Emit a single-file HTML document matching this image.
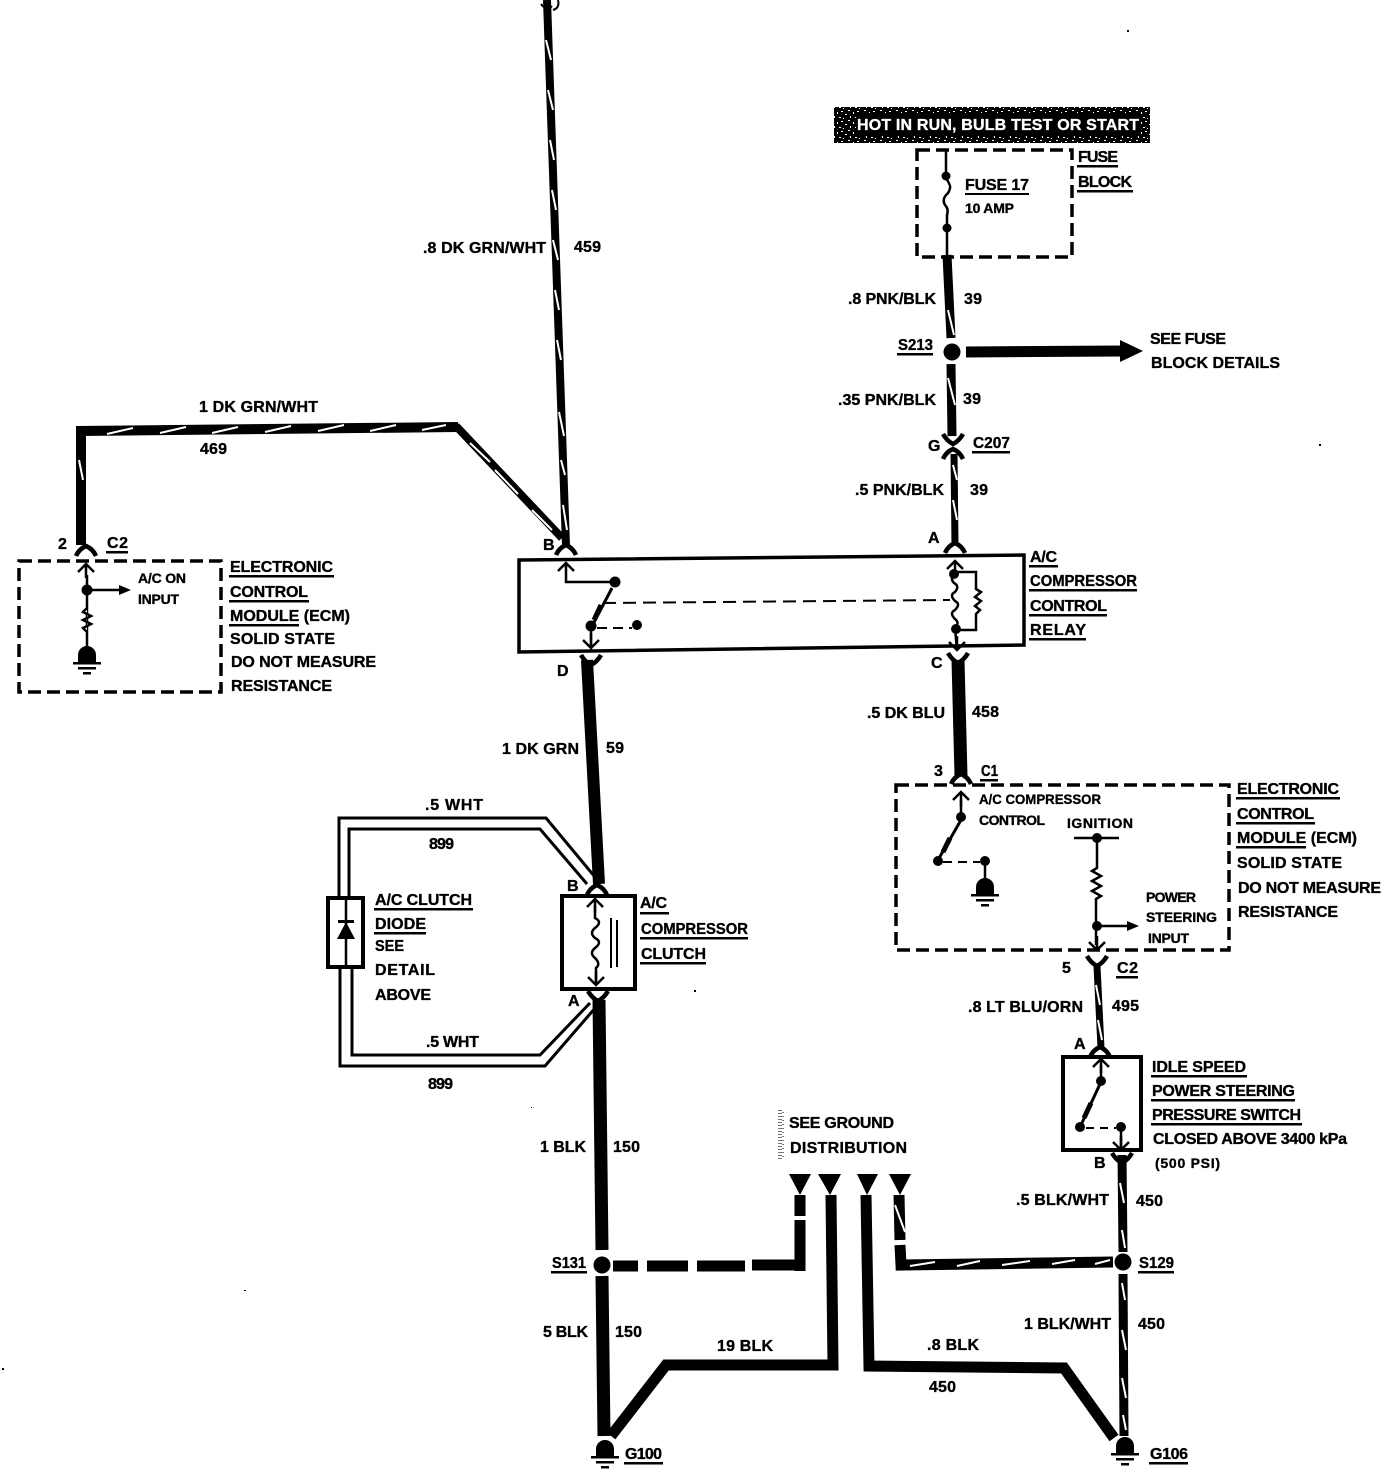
<!DOCTYPE html>
<html><head><meta charset="utf-8"><title>A/C compressor wiring</title>
<style>
html,body{margin:0;padding:0;background:#fff}
svg{display:block}
text{font-family:"Liberation Sans",sans-serif;font-weight:bold;font-size:16px;fill:#000;stroke:#000;stroke-width:.35}
.s{font-size:14px}
.w{fill:none;stroke:#000;stroke-linejoin:miter}
.t{fill:none;stroke:#000;stroke-width:2.5}
.z{fill:none;stroke:#fff;stroke-width:2}
.d{fill:none;stroke:#000;stroke-width:3.5;stroke-dasharray:13 6}
</style></head><body>
<svg width="1392" height="1476" viewBox="0 0 1392 1476" xmlns="http://www.w3.org/2000/svg">
<defs>
<pattern id="n" width="16" height="10" patternUnits="userSpaceOnUse">
<rect x="0" y="0" width="2" height="1" fill="#fff"/><rect x="5" y="2" width="1" height="2" fill="#fff"/><rect x="9" y="1" width="2" height="1" fill="#fff"/><rect x="13" y="4" width="2" height="1" fill="#fff"/><rect x="2" y="6" width="1" height="2" fill="#fff"/><rect x="7" y="7" width="2" height="1" fill="#fff"/><rect x="11" y="8" width="1" height="1" fill="#fff"/>
</pattern>
<g id="cu"><path d="M-10,7 Q-7,0 0,-3 Q7,0 10,7" fill="none" stroke="#000" stroke-width="4.5"/></g>
<g id="cd"><path d="M-10,-7 Q-6,0 0,3 Q6,0 10,-7" fill="none" stroke="#000" stroke-width="4.5"/></g>
<g id="au"><path d="M-8,8 L0,0 L8,8 M0,0 V14" fill="none" stroke="#000" stroke-width="2.5"/></g>
<g id="ad"><path d="M-8,-8 L0,0 L8,-8 M0,0 V-14" fill="none" stroke="#000" stroke-width="2.5"/></g>
<g id="gnd"><path d="M-9,4 V-3 A9,9 0 0 1 9,-3 V4 Z" fill="#000"/><rect x="-14" y="4" width="28" height="2.5"/><rect x="-9" y="9" width="18" height="2.5"/><rect x="-4" y="14" width="8" height="2.5"/></g>
</defs>

<!-- top wire 459 -->
<path class="w" stroke-width="8" d="M547,0 L566,546"/>
<path class="z" d="M546,40 L551,60 M548,90 L553,110 M550,140 L554,160 M552,190 L556,210 M553,240 L558,260 M555,290 L559,310 M557,340 L561,360 M559,412 L564,436 M561,460 L565,475 M563,505 L567,530"/>
<path class="w" stroke-width="2" d="M541,4 Q547,12 552,6 M558,0 Q560,8 553,10"/>
<!-- wire 469 -->
<path class="w" stroke-width="10" d="M81,545 L81,431 L458,427"/>
<path class="w" stroke-width="8" d="M456,426 L562,538"/>
<path class="z" d="M107,434 L133,428 M160,433 L186,427 M212,433 L238,427 M265,432 L291,426 M318,431 L344,425 M370,431 L396,425 M422,430 L446,425 M470,443 L490,462 M495,470 L518,494 M532,510 L552,530 M79,460 L83,480"/>

<!-- pink/blk wire 39 -->
<path class="w" stroke-width="9" d="M947,255 L951,338"/>
<path class="w" stroke-width="9" d="M951,364 L952,436"/>
<path class="w" stroke-width="7" d="M954,454 L955,545"/>
<path class="z" d="M948,310 L954,335 M948,378 L955,405 M953,465 L957,480 M953,500 L957,520"/>
<circle cx="952" cy="352" r="8.5"/>
<path class="w" stroke-width="11" d="M966,352 L1122,351"/>
<path d="M1120,340 L1143,351 L1120,362 Z"/>
<use href="#cd" x="953" y="441"/><use href="#cu" x="953" y="452"/>

<!-- relay -->
<path class="w" stroke-width="3.5" d="M519,560 L1024,555 L1024,645 L519,652 Z"/>
<use href="#cu" x="566" y="548"/><use href="#cu" x="955" y="546"/>
<use href="#cd" x="591" y="662"/><use href="#cd" x="958" y="660"/>
<use href="#au" x="566" y="563"/>
<path class="t" d="M566,577 V582 H615"/>
<circle cx="615" cy="582" r="5.5"/>
<path class="w" stroke-width="3" d="M612,588 L591,628"/>
<path class="w" stroke-width="5" d="M601,605 L594,620"/>
<circle cx="591" cy="626" r="5.5"/>
<path class="w" stroke-width="2" stroke-dasharray="10 6" d="M597,628 L632,628"/>
<circle cx="637" cy="625" r="5"/>
<path class="t" d="M591,630 V648"/>
<use href="#ad" x="591" y="648"/>
<path class="w" stroke-width="2" stroke-dasharray="13 7" d="M603,603 L950,600"/>
<use href="#au" x="955" y="561"/>
<circle cx="954" cy="574" r="5"/>
<path class="t" d="M954,574 q-4,5 0,9 q6,3 1,9 q-6,3 0,9 q6,3 0,9 q-6,3 0,9 q5,4 0,9 L957,650"/>
<path class="t" d="M954,572 H976 V589 l5,3 -6,5 6,4 -6,5 5,4 -4,4 V630 H957"/>
<circle cx="956" cy="629" r="5"/>
<use href="#ad" x="957" y="650"/>

<!-- wire 458 and 59 -->
<path class="w" stroke-width="13" d="M958,660 L961,776"/>
<path class="w" stroke-width="12" d="M587,660 L599,884"/>
<use href="#cu" x="961" y="777"/>

<!-- ECM left -->
<rect class="d" x="19" y="561" width="202" height="131"/>
<use href="#cu" x="86" y="549"/>
<use href="#au" x="86" y="564"/>
<path class="t" d="M87,575 V650 M87,590 H120"/>
<circle cx="87" cy="590" r="5.5"/>
<path d="M119,585 L131,590 L119,595 Z"/>
<path d="M87,608 l-4,4 8,4 -8,4 8,4 -8,4 4,4" fill="#fff" stroke="#000" stroke-width="2.5"/>
<use href="#gnd" x="87" y="658"/>

<!-- Fuse block -->
<rect class="d" x="917" y="150" width="155" height="107"/>
<path class="t" d="M946,150 V178 M946,178 q5,8 4,10 q-1,5 -4,7 q-4,5 -1,10 q4,4 2,10 V255"/>
<circle cx="946" cy="176" r="4.5"/><circle cx="947" cy="228" r="4.5"/>

<!-- Clutch -->
<rect class="w" stroke-width="4" x="562" y="896" width="73" height="93"/>
<use href="#cu" x="597" y="888"/>
<use href="#cd" x="598" y="998"/>
<use href="#au" x="595" y="899"/>
<path class="t" d="M595,905 V918 q8,4 0,10 q-6,5 0,10 q8,4 0,10 q-6,5 0,10 q6,6 1,10 V983"/>
<use href="#ad" x="596" y="985"/>
<path class="w" stroke-width="2" d="M611,918 V968 M617,920 V967"/>

<!-- diode double wires -->
<path class="w" stroke-width="3" d="M339,898 V818 H546 L595,877"/>
<path class="w" stroke-width="3" d="M349,898 V829 H540 L587,884"/>
<path class="w" stroke-width="3" d="M340,967 V1066 H545 L596,1007"/>
<path class="w" stroke-width="3" d="M352,967 V1055 H540 L590,1003"/>
<rect class="w" stroke-width="4" x="328" y="898" width="35" height="69"/>
<path class="w" stroke-width="2.5" d="M346,899 V966"/>
<path d="M338,920 H354 V923 H338 Z"/>
<path d="M337,939 L355,939 L346,922 Z"/>

<!-- 150 wires -->
<path class="w" stroke-width="13" d="M599,1000 L602,1250"/>
<path class="w" stroke-width="13" d="M602,1276 L604,1436"/>
<circle cx="602" cy="1265" r="8.5"/>
<use href="#gnd" x="605" y="1452"/>

<!-- Ground distribution -->
<path d="M789,1174 L811,1174 L800,1195 Z M818,1174 L841,1174 L830,1195 Z M857,1174 L878,1174 L867,1195 Z M889,1174 L911,1174 L900,1195 Z"/>
<path class="w" stroke-width="11" d="M800,1195 V1216 M800,1220 V1271"/>
<path class="w" stroke-width="11" d="M613,1266 H638 M647,1266 H688 M697,1266 H745 M752,1265 H796"/>
<path class="w" stroke-width="11" d="M831,1195 L833,1365 L666,1365 L611,1436"/>
<path class="w" stroke-width="11" d="M866,1195 L869,1366 L1064,1368 L1114,1438"/>
<path class="w" stroke-width="11" d="M899,1195 L900,1240 M900,1245 L901,1265 L1113,1262"/>
<path class="z" d="M895,1205 L905,1232 M910,1266 L935,1262 M957,1266 L980,1261 M1002,1265 L1030,1261 M1052,1264 L1075,1260 M1095,1264 L1110,1260"/>
<circle cx="1123" cy="1262" r="8.5"/>
<path class="w" stroke-width="9" d="M1122,1155 L1123,1252 M1123,1274 L1124,1436"/>
<path class="z" d="M1120,1183 L1124,1203 M1122,1230 L1125,1248 M1122,1283 L1125,1300 M1122,1330 L1126,1350 M1122,1378 L1126,1398 M1123,1415 L1126,1430"/>
<use href="#gnd" x="1125" y="1449"/>

<!-- ECM right -->
<rect class="d" x="896" y="785" width="333" height="165"/>
<use href="#au" x="961" y="792"/>
<circle cx="961" cy="817" r="5"/>
<path class="t" d="M961,800 V817"/>
<path class="w" stroke-width="3" d="M961,820 L938,860"/>
<path class="w" stroke-width="5" d="M950,838 L943,852"/>
<circle cx="938" cy="861" r="5"/>
<path class="w" stroke-width="2" stroke-dasharray="9 6" d="M943,862 L980,862"/>
<circle cx="985" cy="861" r="5"/>
<path class="t" d="M985,861 V882"/>
<use href="#gnd" x="985" y="890"/>
<path class="t" d="M1074,838 H1119 M1097,838 V868 l-5,3 9,5 -9,5 9,5 -9,5 9,5 -5,3 V945"/>
<circle cx="1097" cy="838" r="5"/><circle cx="1097" cy="926" r="5"/>
<path class="t" d="M1097,926 H1128"/>
<path d="M1127,921 L1139,926 L1127,931 Z"/>
<use href="#ad" x="1097" y="950"/>
<use href="#cd" x="1097" y="963"/>
<path class="w" stroke-width="7" d="M1097,966 L1101,1048"/>
<path class="z" d="M1096,985 L1100,1005 M1098,1020 L1102,1040"/>
<use href="#cu" x="1100" y="1050"/>

<!-- Idle switch -->
<rect class="w" stroke-width="4" x="1063" y="1057" width="78" height="93"/>
<use href="#au" x="1101" y="1059"/>
<path class="t" d="M1101,1065 V1080"/>
<circle cx="1101" cy="1081" r="5"/>
<path class="w" stroke-width="3" d="M1100,1084 L1081,1125"/>
<path class="w" stroke-width="5" d="M1091,1103 L1084,1118"/>
<circle cx="1080" cy="1127" r="5"/>
<path class="w" stroke-width="2" stroke-dasharray="8 6" d="M1086,1128 L1116,1128"/>
<circle cx="1121" cy="1127" r="5"/>
<path class="t" d="M1121,1127 V1148"/>
<use href="#ad" x="1121" y="1150"/>
<use href="#cd" x="1122" y="1160"/>

<!-- Banner -->
<rect x="834" y="107" width="316" height="36"/>
<rect x="834" y="107" width="316" height="36" fill="url(#n)"/>
<rect x="856" y="113" width="284" height="22" fill="#000"/>
<text x="857" y="130" textLength="282" style="fill:#fff;stroke:#fff">HOT IN RUN, BULB TEST OR START</text>

<!-- Labels -->
<text x="1078" y="162" textLength="40">FUSE</text><rect x="1077" y="165" width="41" height="2.5"/>
<text x="1078" y="187" textLength="54">BLOCK</text><rect x="1077" y="190" width="56" height="2.5"/>
<text x="965" y="190" textLength="64">FUSE 17</text><rect x="965" y="193" width="64" height="2"/>
<text class="s" x="965" y="213" textLength="49">10 AMP</text>
<text x="423" y="253" textLength="123">.8 DK GRN/WHT</text>
<text x="574" y="252" textLength="27">459</text>
<text x="848" y="304" textLength="88">.8 PNK/BLK</text>
<text x="964" y="304" textLength="18">39</text>
<text x="898" y="350" textLength="35" lengthAdjust="spacingAndGlyphs">S213</text><rect x="897" y="353" width="36" height="2.5"/>
<text x="1150" y="344" textLength="76">SEE FUSE</text>
<text x="1151" y="368" textLength="129">BLOCK DETAILS</text>
<text x="838" y="405" textLength="98">.35 PNK/BLK</text>
<text x="963" y="404" textLength="18">39</text>
<text x="928" y="451" textLength="11">G</text>
<text x="973" y="448" textLength="37" lengthAdjust="spacingAndGlyphs">C207</text><rect x="972" y="451" width="38" height="2.5"/>
<text x="855" y="495" textLength="89">.5 PNK/BLK</text>
<text x="970" y="495" textLength="18">39</text>
<text x="199" y="412" textLength="119">1 DK GRN/WHT</text>
<text x="200" y="454" textLength="27">469</text>
<text x="58" y="549" textLength="10">2</text>
<text x="107" y="548" textLength="21">C2</text><rect x="106" y="551" width="22" height="2.5"/>
<text class="s" x="138" y="583" textLength="48">A/C ON</text>
<text class="s" x="138" y="604" textLength="41">INPUT</text>
<text x="230" y="572" textLength="103">ELECTRONIC</text><rect x="229" y="575" width="105" height="2.5"/>
<text x="230" y="597" textLength="78">CONTROL</text><rect x="229" y="600" width="80" height="2.5"/>
<text x="230" y="621" textLength="120">MODULE (ECM)</text><rect x="229" y="624" width="70" height="2.5"/>
<text x="230" y="644" textLength="105">SOLID STATE</text>
<text x="231" y="667" textLength="145">DO NOT MEASURE</text>
<text x="231" y="691" textLength="101">RESISTANCE</text>
<text x="543" y="550" textLength="10">B</text>
<text x="928" y="543" textLength="12">A</text>
<text x="557" y="676" textLength="11">D</text>
<text x="931" y="668" textLength="12">C</text>
<text x="1030" y="562" textLength="27">A/C</text><rect x="1029" y="565" width="29" height="2.5"/>
<text x="1030" y="586" textLength="107" lengthAdjust="spacingAndGlyphs">COMPRESSOR</text><rect x="1029" y="589" width="108" height="2.5"/>
<text x="1030" y="611" textLength="77">CONTROL</text><rect x="1029" y="614" width="78" height="2.5"/>
<text x="1030" y="635" textLength="56">RELAY</text><rect x="1029" y="638" width="57" height="2.5"/>
<text x="502" y="754" textLength="77">1 DK GRN</text>
<text x="606" y="753" textLength="18">59</text>
<text x="867" y="718" textLength="78">.5 DK BLU</text>
<text x="972" y="717" textLength="27">458</text>
<text x="934" y="776" textLength="10">3</text>
<text x="981" y="776" textLength="17" lengthAdjust="spacingAndGlyphs">C1</text><rect x="980" y="779" width="18" height="2.5"/>
<text class="s" x="979" y="804" textLength="122" lengthAdjust="spacingAndGlyphs">A/C COMPRESSOR</text>
<text class="s" x="979" y="825" textLength="66">CONTROL</text>
<text class="s" x="1067" y="828" textLength="66">IGNITION</text>
<text class="s" x="1146" y="902" textLength="50">POWER</text>
<text class="s" x="1146" y="922" textLength="71">STEERING</text>
<text class="s" x="1148" y="943" textLength="41">INPUT</text>
<text x="1237" y="794" textLength="102">ELECTRONIC</text><rect x="1236" y="797" width="104" height="2.5"/>
<text x="1237" y="819" textLength="77">CONTROL</text><rect x="1236" y="822" width="79" height="2.5"/>
<text x="1237" y="843" textLength="120">MODULE (ECM)</text><rect x="1236" y="846" width="70" height="2.5"/>
<text x="1237" y="868" textLength="105">SOLID STATE</text>
<text x="1238" y="893" textLength="143">DO NOT MEASURE</text>
<text x="1238" y="917" textLength="100">RESISTANCE</text>
<text x="1062" y="973" textLength="10">5</text>
<text x="1117" y="973" textLength="21">C2</text><rect x="1116" y="976" width="22" height="2.5"/>
<text x="968" y="1012" textLength="115">.8 LT BLU/ORN</text>
<text x="1112" y="1011" textLength="27">495</text>
<text x="1074" y="1049" textLength="12">A</text>
<text x="1094" y="1168" textLength="10">B</text>
<text x="1152" y="1072" textLength="94">IDLE SPEED</text><rect x="1151" y="1075" width="96" height="2.5"/>
<text x="1152" y="1096" textLength="143">POWER STEERING</text><rect x="1151" y="1099" width="144" height="2.5"/>
<text x="1152" y="1120" textLength="149">PRESSURE SWITCH</text><rect x="1151" y="1123" width="151" height="2.5"/>
<text x="1153" y="1144" textLength="194">CLOSED ABOVE 3400 kPa</text>
<text class="s" x="1155" y="1168" textLength="65">(500 PSI)</text>
<text x="425" y="810" textLength="58">.5 WHT</text>
<text x="429" y="849" textLength="25">899</text>
<text x="375" y="905" textLength="97">A/C CLUTCH</text><rect x="374" y="908" width="99" height="2.5"/>
<text x="375" y="929" textLength="51">DIODE</text><rect x="374" y="932" width="52" height="2.5"/>
<text x="375" y="951" textLength="29" lengthAdjust="spacingAndGlyphs">SEE</text>
<text x="375" y="975" textLength="60">DETAIL</text>
<text x="375" y="1000" textLength="56">ABOVE</text>
<text x="640" y="908" textLength="27">A/C</text><rect x="640" y="912" width="29" height="2.5"/>
<text x="641" y="934" textLength="107" lengthAdjust="spacingAndGlyphs">COMPRESSOR</text><rect x="640" y="937" width="108" height="2.5"/>
<text x="641" y="959" textLength="65">CLUTCH</text><rect x="640" y="962" width="66" height="2.5"/>
<text x="567" y="891" textLength="11">B</text>
<text x="568" y="1006" textLength="12">A</text>
<text x="426" y="1047" textLength="53">.5 WHT</text>
<text x="428" y="1089" textLength="25">899</text>
<text x="540" y="1152" textLength="46">1 BLK</text>
<text x="613" y="1152" textLength="27">150</text>
<text x="552" y="1268" textLength="34" lengthAdjust="spacingAndGlyphs">S131</text><rect x="551" y="1271" width="36" height="2.5"/>
<text x="543" y="1337" textLength="45">5 BLK</text>
<text x="615" y="1337" textLength="27">150</text>
<text x="717" y="1351" textLength="56">19 BLK</text>
<text x="625" y="1459" textLength="37">G100</text><rect x="624" y="1462" width="39" height="2.5"/>
<text x="789" y="1128" textLength="105">SEE GROUND</text>
<text x="790" y="1153" textLength="117">DISTRIBUTION</text>
<text x="927" y="1350" textLength="52">.8 BLK</text>
<text x="929" y="1392" textLength="27">450</text>
<text x="1016" y="1205" textLength="93">.5 BLK/WHT</text>
<text x="1136" y="1206" textLength="27">450</text>
<text x="1139" y="1268" textLength="35" lengthAdjust="spacingAndGlyphs">S129</text><rect x="1138" y="1271" width="36" height="2.5"/>
<text x="1024" y="1329" textLength="87">1 BLK/WHT</text>
<text x="1138" y="1329" textLength="27">450</text>
<text x="1150" y="1459" textLength="38">G106</text><rect x="1149" y="1462" width="39" height="2.5"/>

<!-- stipple and specks -->
<path d="M780,1110 V1160" stroke="#000" stroke-width="4" stroke-dasharray="1 2" opacity=".55"/>
<path d="M783,1112 V1160" stroke="#000" stroke-width="2" stroke-dasharray="1 3" opacity=".5"/>
<rect x="1127" y="30" width="2" height="2"/><rect x="1319" y="444" width="2" height="2"/><rect x="244" y="1290" width="2" height="1"/><rect x="694" y="990" width="2" height="2"/><rect x="2" y="1368" width="2" height="2"/><rect x="531" y="1107" width="1" height="1"/>
</svg>
</body></html>
